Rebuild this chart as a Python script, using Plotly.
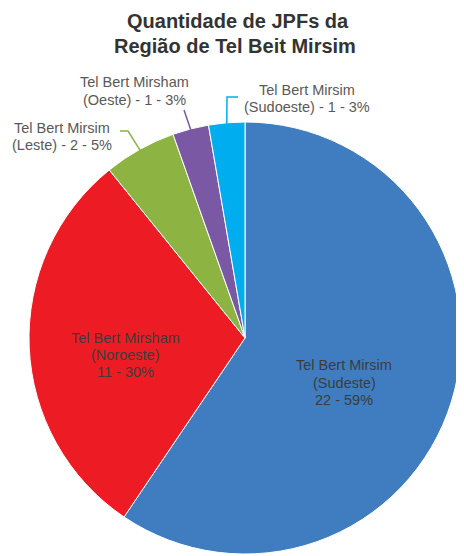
import math
import plotly.graph_objects as go

title_lines = ["Quantidade de JPFs da", "Região de Tel Beit Mirsim"]
names = ["Tel Bert Mirsim", "Tel Bert Mirsham", "Tel Bert Mirsim", "Tel Bert Mirsham", "Tel Bert Mirsim"]
regions = ["Sudeste", "Noroeste", "Leste", "Oeste", "Sudoeste"]
values = [22, 11, 2, 1, 1]
percents = ["59%", "30%", "5%", "3%", "3%"]
colors = ["#3F7CC0", "#ED1C24", "#8DB343", "#7A58A4", "#00AEEF"]

# page body margin offset (pixels)
OFF = 8
W, H = 464 - OFF, 556 - OFF
cx, cy, r = 245, 338, 216


def px(x):
    return (x - OFF) / W


def py(y):
    return 1 - (y - OFF) / H


dom_x = [max(0.0, px(cx - r)), min(1.0, px(cx + r))]
dom_y = [max(0.0, py(cy + r)), min(1.0, py(cy - r))]

fig = go.Figure(go.Pie(
    labels=[f"{n} ({g})" for n, g in zip(names, regions)],
    values=values,
    sort=False,
    direction="clockwise",
    rotation=0,
    marker=dict(colors=colors, line=dict(color="white", width=1)),
    textinfo="none",
    hoverinfo="label+value+percent",
    domain=dict(x=dom_x, y=dom_y),
    showlegend=False,
))

annotations = []


def add_line(text, x, y, size, color, bold=False):
    annotations.append(dict(
        x=px(x), y=py(y), xref="paper", yref="paper", showarrow=False,
        xanchor="center", yanchor="middle",
        text=("<b>%s</b>" % text) if bold else text,
        font=dict(family="Liberation Sans, Arial", size=size, color=color),
    ))


# title
add_line(title_lines[0], 238, 21, 20, "#333333", bold=True)
add_line(title_lines[1], 235, 46, 20, "#333333", bold=True)

# inside labels: (x, [y of each line])
inside_pos = {0: (344, [365, 383, 400]), 1: (125, [338, 355, 372])}
for i, (x, ys) in inside_pos.items():
    lines = [names[i], f"({regions[i]})", f"{values[i]} - {percents[i]}"]
    for t, y in zip(lines, ys):
        add_line(t, x, y, 14.5, "#3C3C3C")

# outside labels
outside_pos = {2: (62, [128, 145]), 3: (135, [82, 100]), 4: (307, [90, 107])}
for i, (x, ys) in outside_pos.items():
    lines = [names[i], f"({regions[i]}) - {values[i]} - {percents[i]}"]
    for t, y in zip(lines, ys):
        add_line(t, x, y, 14.5, "#595959")

# leader lines starting at slice mid-angle on the rim
total = sum(values)
cum = 0
mids = []
for v in values:
    mids.append((cum + v / 2) / total * 2 * math.pi)
    cum += v
ends = {2: [(128, 131), (120, 131)], 3: [(184, 110)], 4: [(227, 97), (238, 97)]}
shapes = []
for i, pts in ends.items():
    a = mids[i]
    sx = cx + (r - 1) * math.sin(a)
    sy = cy - (r - 1) * math.cos(a)
    path = f"M {px(sx)} {py(sy)}" + "".join(f" L {px(x)} {py(y)}" for x, y in pts)
    shapes.append(dict(type="path", xref="paper", yref="paper", path=path,
                       line=dict(color=colors[i], width=1.5)))

fig.update_layout(
    width=W, height=H,
    margin=dict(l=0, r=0, t=0, b=0),
    paper_bgcolor="white",
    plot_bgcolor="white",
    annotations=annotations,
    shapes=shapes,
)

fig.write_html("out.html")
